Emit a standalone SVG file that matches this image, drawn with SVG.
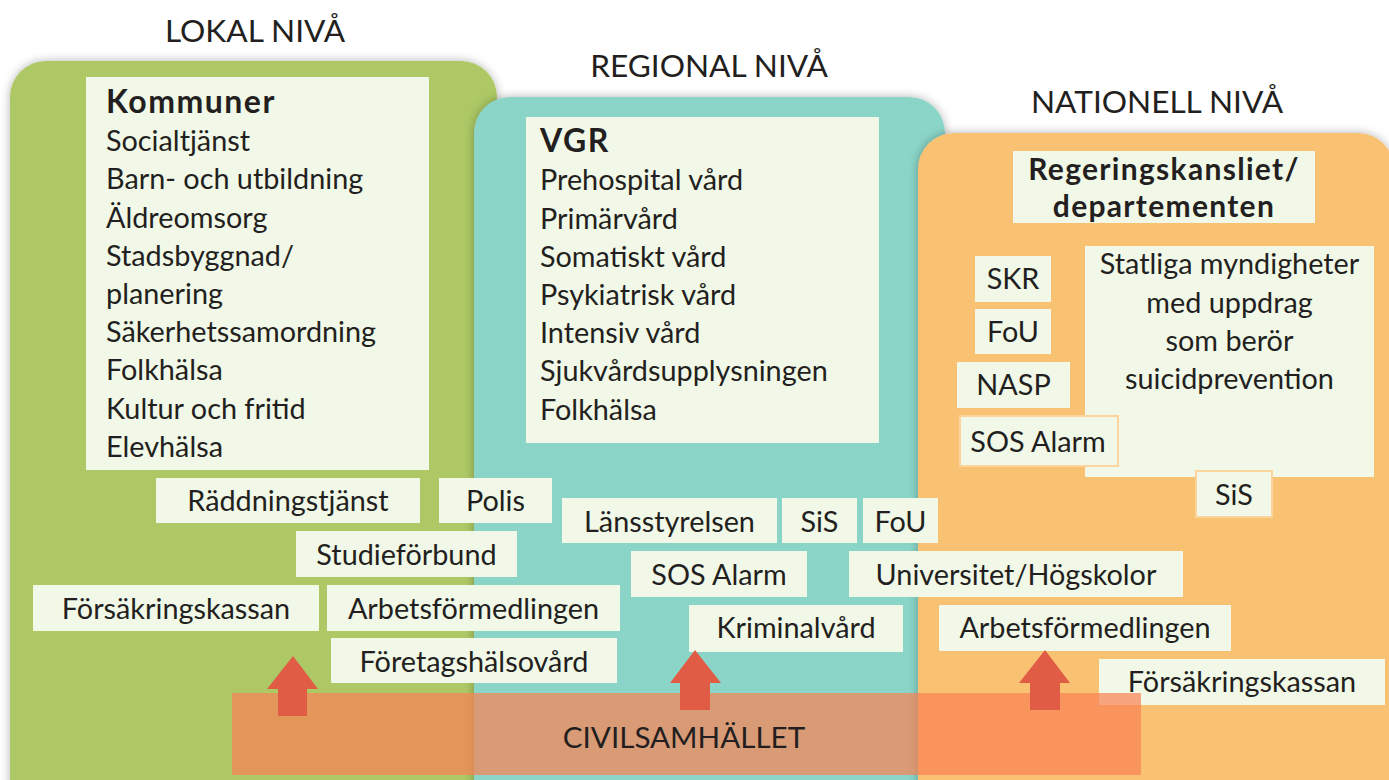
<svg xmlns="http://www.w3.org/2000/svg" width="1389" height="780" viewBox="0 0 1389 780">
<defs>
<filter id="sh" x="-10%" y="-10%" width="120%" height="120%">
<feDropShadow dx="0" dy="0" stdDeviation="5" flood-color="#000" flood-opacity="0.3"/>
</filter>
</defs>
<style>
text{font-family:Lato,"Liberation Sans",sans-serif;fill:#231f20;font-size:28.8px}
.t{font-size:31.6px}
.b{font-weight:bold;font-size:32px;letter-spacing:1.5px}
.b2{font-weight:bold;font-size:30px;letter-spacing:1.3px}
.c{text-anchor:middle}
.box{fill:#f1f8e7}
.obox{fill:#f1f8e7;stroke:#fdd49c;stroke-width:2}
.arr{fill:#e05c45}
</style>
<rect width="1389" height="780" fill="#ffffff"/>
<g id="titles">
<text class="t c" x="255" y="42">LOKAL NIVÅ</text>
<text class="t c" x="709" y="77">REGIONAL NIVÅ</text>
<text class="t c" x="1157" y="113">NATIONELL NIVÅ</text>
</g>
<g id="lokal-niva"><rect x="10" y="61" width="487" height="760" rx="36" fill="#adc865" filter="url(#sh)"/></g>
<g id="regional-niva"><rect x="474" y="97" width="471" height="730" rx="36" fill="#8ad4c8" filter="url(#sh)"/></g>
<g id="nationell-niva"><rect x="918" y="133" width="476" height="700" rx="36" fill="#f9c172" filter="url(#sh)"/></g>

<g id="kommuner">
<rect class="box" x="86" y="77" width="343" height="393"/>
<text class="b" x="106" y="113">Kommuner</text>
<text x="106" y="151">Socialtjänst</text>
<text x="106" y="189">Barn- och utbildning</text>
<text x="106" y="228">Äldreomsorg</text>
<text x="106" y="266">Stadsbyggnad/</text>
<text x="106" y="304">planering</text>
<text x="106" y="342">Säkerhetssamordning</text>
<text x="106" y="380">Folkhälsa</text>
<text x="106" y="419">Kultur och fritid</text>
<text x="106" y="457">Elevhälsa</text>
</g>
<g id="vgr">
<rect class="box" x="526" y="117" width="353" height="326"/>
<text class="b" x="540" y="152">VGR</text>
<text x="540" y="190">Prehospital vård</text>
<text x="540" y="229">Primärvård</text>
<text x="540" y="267">Somatiskt vård</text>
<text x="540" y="305">Psykiatrisk vård</text>
<text x="540" y="343">Intensiv vård</text>
<text x="540" y="381">Sjukvårdsupplysningen</text>
<text x="540" y="420">Folkhälsa</text>
</g>
<g id="regeringskansliet">
<rect class="box" x="1013" y="151" width="302" height="72"/>
<text class="b2 c" x="1164" y="180">Regeringskansliet/</text>
<text class="b2 c" x="1164" y="217">departementen</text>
</g>
<g id="skr"><rect class="box" x="975" y="256" width="76" height="46"/><text class="c" x="1013" y="289">SKR</text></g>
<g id="fou-nat"><rect class="box" x="975" y="309" width="76" height="45"/><text class="c" x="1013" y="342">FoU</text></g>
<g id="nasp"><rect class="box" x="957" y="362" width="113" height="46"/><text class="c" x="1013.5" y="395">NASP</text></g>
<g id="statliga">
<rect class="box" x="1085" y="246" width="289" height="231"/>
<text class="c" x="1229.5" y="274">Statliga myndigheter</text>
<text class="c" x="1229.5" y="313">med uppdrag</text>
<text class="c" x="1229.5" y="351">som berör</text>
<text class="c" x="1229.5" y="389">suicidprevention</text>
</g>
<g id="sos-nat"><rect class="obox" x="960" y="416" width="158" height="50"/><text class="c" x="1038" y="452">SOS Alarm</text></g>
<g id="sis-nat"><rect class="obox" x="1196" y="471" width="76" height="46"/><text class="c" x="1234" y="505">SiS</text></g>

<g id="raddningstjanst"><rect class="box" x="156" y="478" width="264" height="45"/><text class="c" x="288" y="511">Räddningstjänst</text></g>
<g id="polis"><rect class="box" x="439" y="478" width="113" height="45"/><text class="c" x="495.5" y="511">Polis</text></g>
<g id="studieforbund"><rect class="box" x="296" y="531" width="221" height="46"/><text class="c" x="406.5" y="565">Studieförbund</text></g>
<g id="forsakringskassan-lok"><rect class="box" x="33" y="585" width="286" height="46"/><text class="c" x="176" y="619">Försäkringskassan</text></g>
<g id="arbetsformedlingen-lok"><rect class="box" x="327" y="585" width="293" height="46"/><text class="c" x="473.5" y="619">Arbetsförmedlingen</text></g>
<g id="foretagshalsovard"><rect class="box" x="331" y="638" width="286" height="45"/><text class="c" x="474" y="672">Företagshälsovård</text></g>
<g id="lansstyrelsen"><rect class="box" x="562" y="498" width="215" height="45"/><text class="c" x="669.5" y="532">Länsstyrelsen</text></g>
<g id="sis-reg"><rect class="box" x="782" y="498" width="75" height="45"/><text class="c" x="819.5" y="532">SiS</text></g>
<g id="fou-reg"><rect class="box" x="863" y="498" width="75" height="45"/><text class="c" x="900.5" y="532">FoU</text></g>
<g id="sos-reg"><rect class="box" x="631" y="551" width="176" height="46"/><text class="c" x="719" y="585">SOS Alarm</text></g>
<g id="universitet"><rect class="box" x="849" y="551" width="334" height="46"/><text class="c" x="1016" y="585">Universitet/Högskolor</text></g>
<g id="kriminalvard"><rect class="box" x="689" y="605" width="214" height="47"/><text class="c" x="796" y="638">Kriminalvård</text></g>
<g id="arbetsformedlingen-nat"><rect class="box" x="939" y="605" width="292" height="46"/><text class="c" x="1085" y="638">Arbetsförmedlingen</text></g>
<g id="forsakringskassan-nat"><rect class="box" x="1099" y="659" width="286" height="46"/><text class="c" x="1242" y="692">Försäkringskassan</text></g>

<g id="civilsamhallet">
<rect x="232" y="693" width="909" height="82" fill="rgb(250,130,85)" fill-opacity="0.71"/>
<text class="c" x="684" y="748" style="font-size:29.6px">CIVILSAMHÄLLET</text>
</g>
<g id="connectors">
<polygon class="arr" points="293,656 318,689 307,689 307,716 278,716 278,689 267,689"/>
<polygon class="arr" points="695,650 721,683 710,683 710,710 680,710 680,683 670,683"/>
<polygon class="arr" points="1045,650 1070,683 1060,683 1060,710 1030,710 1030,683 1019,683"/>
</g>
</svg>
